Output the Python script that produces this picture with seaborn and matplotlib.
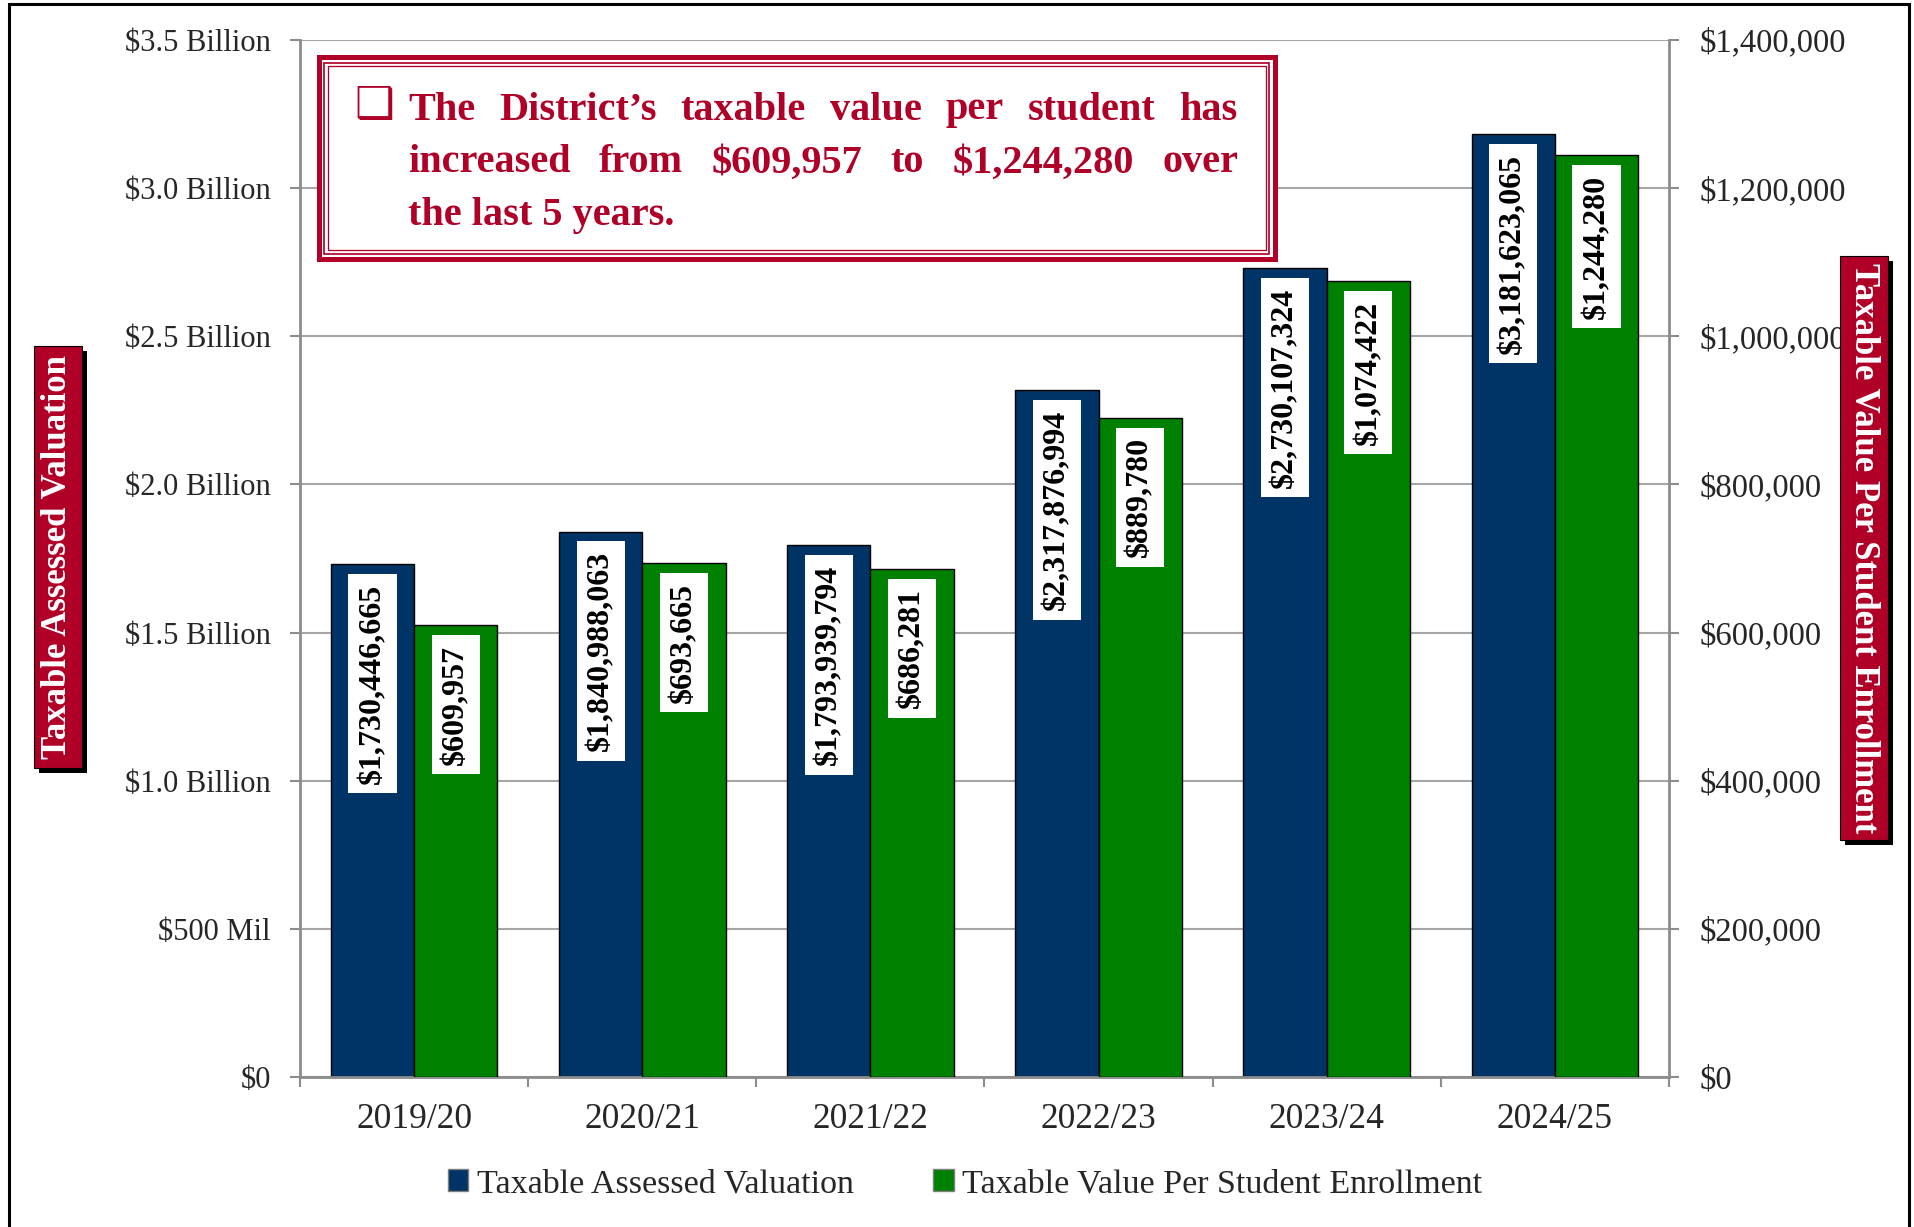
import matplotlib
matplotlib.use("Agg")
import matplotlib.pyplot as plt
from matplotlib.patches import Rectangle, Patch
import numpy as np
import pandas as pd
import seaborn as sns

# data
years = ["2019/20", "2020/21", "2021/22", "2022/23", "2023/24", "2024/25"]
assessed_valuation = [1730446665, 1840988063, 1793939794, 2317876994, 2730107324, 3181623065]
value_per_student = [609957, 693665, 686281, 889780, 1074422, 1244280]
series_names = ["Taxable Assessed Valuation", "Taxable Value Per Student Enrollment"]
series_colors = ["#003366", "#008000"]

left_ticks = [0, 0.5e9, 1.0e9, 1.5e9, 2.0e9, 2.5e9, 3.0e9, 3.5e9]
left_tick_labels = ["$0", "$500 Mil", "$1.0 Billion", "$1.5 Billion", "$2.0 Billion",
                    "$2.5 Billion", "$3.0 Billion", "$3.5 Billion"]
right_ticks = [0, 200000, 400000, 600000, 800000, 1000000, 1200000, 1400000]
right_tick_labels = ["$0", "$200,000", "$400,000", "$600,000", "$800,000",
                     "$1,000,000", "$1,200,000", "$1,400,000"]

note_lines = ["The District\u2019s taxable value per student has",
              "increased from $609,957 to $1,244,280 over",
              "the last 5 years."]

W, H = 1915, 1227
crimson = "#B00028"
gray = "#8C8C8C"

sns.set_theme(style="white")
plt.rcParams["font.family"] = ["Liberation Serif", "DejaVu Serif"]
plt.rcParams["text.parse_math"] = False


def fx(x):
    return x / W


def fy(y):
    return 1 - y / H


fig = plt.figure(figsize=(W / 100, H / 100), dpi=100)
fig.patch.set_facecolor("white")
ax = fig.add_axes([fx(300), fy(1077), (1669 - 300) / W, (1077 - 40) / H])
ax2 = ax.twinx()

df = pd.DataFrame({
    "Year": years * 2,
    "Series": [series_names[0]] * len(years) + [series_names[1]] * len(years),
    "Value": assessed_valuation + value_per_student,
})
pal = dict(zip(series_names, series_colors))

# each series on its own axis, hue_order keeps both dodge slots
for a, name in [(ax, series_names[0]), (ax2, series_names[1])]:
    sns.barplot(data=df[df["Series"] == name], x="Year", y="Value", hue="Series",
                hue_order=series_names, order=years, palette=pal, dodge=True,
                width=0.73, saturation=1, errorbar=None, legend=False,
                edgecolor="black", linewidth=1, ax=a)

ax.set_xlim(-0.5, len(years) - 0.5)
ax.set_ylim(0, 3.5e9)
ax2.set_ylim(0, 1.4e6)

# left axis
ax.set_yticks(left_ticks)
ax.set_yticklabels(left_tick_labels)
ax.yaxis.grid(True, color="#A6A6A6", linewidth=1.5)
ax.xaxis.grid(False)
ax.set_axisbelow(True)
ax.tick_params(axis="y", left=True, direction="out", length=7, width=1.5,
               color=gray, pad=14, labelsize=22)
ax.set_xticks(range(len(years)))
ax.set_xticklabels(years)
ax.set_xticks(np.arange(-0.5, len(years), 1), minor=True)
ax.tick_params(axis="x", which="major", bottom=False, length=0, pad=19, labelsize=25.5)
ax.tick_params(axis="x", which="minor", bottom=True, direction="out", length=7,
               width=1.5, color=gray)
for s in ["top", "right"]:
    ax.spines[s].set_visible(False)
for s in ["left", "bottom"]:
    ax.spines[s].set_color(gray)
    ax.spines[s].set_linewidth(2)
ax.set_xlabel("")
ax.set_ylabel("")

# right axis
ax2.set_yticks(right_ticks)
ax2.set_yticklabels(right_tick_labels)
ax2.grid(False)
ax2.tick_params(axis="y", right=True, direction="out", length=7, width=1.5,
                color=gray, pad=15, labelsize=23.5)
for s in ["top", "left", "bottom"]:
    ax2.spines[s].set_visible(False)
ax2.spines["right"].set_color(gray)
ax2.spines["right"].set_linewidth(2)
ax2.set_ylabel("")
ax2.set_xlabel("")

# value labels inside the bars
for a in [ax, ax2]:
    for cont in a.containers:
        for bar in cont:
            h = bar.get_height()
            if np.isnan(h) or h == 0:
                continue
            a.annotate(f"${int(round(h)):,}", xy=(bar.get_x() + bar.get_width() / 2, h),
                       xytext=(0, -14), textcoords="offset points", rotation=90,
                       ha="center", va="top", fontsize=23, fontweight="bold",
                       color="black",
                       bbox=dict(boxstyle="square,pad=0.3", fc="white", ec="none"))


# axis title boxes (white text on crimson with a black shadow)
def title_box(x0, y0, x1, y1, text, rot):
    fig.add_artist(Rectangle((fx(x0 + 5), fy(y1 + 5)), (x1 - x0) / W, (y1 - y0) / H,
                             transform=fig.transFigure, fc="black", ec="none"))
    fig.add_artist(Rectangle((fx(x0), fy(y1)), (x1 - x0) / W, (y1 - y0) / H,
                             transform=fig.transFigure, fc=crimson, ec="black", lw=0.8))
    fig.text(fx((x0 + x1) / 2), fy((y0 + y1) / 2), text, rotation=rot,
             ha="center", va="center", color="white", fontsize=25, fontweight="bold")


title_box(34, 346, 82, 768, "Taxable Assessed Valuation", 90)
title_box(1840, 256, 1888, 840, "Taxable Value Per Student Enrollment", 270)

# note box with a double crimson border
fig.add_artist(Rectangle((fx(317 + 2.4), fy(261 - 2.4)), (960 - 4.8) / W, (206 - 4.8) / H,
                         transform=fig.transFigure, fc="white", ec=crimson, lw=5 * 0.72))
fig.add_artist(Rectangle((fx(317 + 7.5), fy(261 - 7.5)), (960 - 15) / W, (206 - 15) / H,
                         transform=fig.transFigure, fc="none", ec=crimson, lw=1.7 * 0.72))
fig.add_artist(Rectangle((fx(317 + 10.8), fy(261 - 10.8)), (960 - 21.6) / W, (206 - 21.6) / H,
                         transform=fig.transFigure, fc="none", ec=crimson, lw=1.3 * 0.72))

fig.text(fx(374), fy(106), "\u2751", family=["DejaVu Sans"], fontsize=32,
         color=crimson, ha="center", va="center")

renderer = fig.canvas.get_renderer()
x_start, x_end = 408, 1238
line_y = [110, 163, 216]
note_kw = dict(fontsize=29, fontweight="bold", color=crimson, va="center", ha="left")
for i, line in enumerate(note_lines):
    if i == len(note_lines) - 1:
        fig.text(fx(x_start), fy(line_y[i]), line, **note_kw)
        continue
    words = line.split(" ")
    texts = [fig.text(0, 0, w, **note_kw) for w in words]
    widths = [t.get_window_extent(renderer).width for t in texts]
    gap = (x_end - x_start - sum(widths)) / (len(words) - 1)
    x = x_start
    for t, w in zip(texts, widths):
        t.set_position((fx(x), fy(line_y[i])))
        x += w + gap

# legend under the plot
handles = [Patch(facecolor=c, edgecolor="#7F7F7F", linewidth=1, label=n)
           for n, c in zip(series_names, series_colors)]
fig.legend(handles=handles, loc="center", bbox_to_anchor=(fx(965), fy(1184)), ncol=2,
           frameon=False, fontsize=24.5, handlelength=0.6, handleheight=0.6,
           handletextpad=0.25, columnspacing=2.35)

# outer frame (no bottom edge visible)
fig.add_artist(Rectangle((fx(9), -0.05), (1909 - 9) / W, fy(4) + 0.05,
                         transform=fig.transFigure, fc="none", ec="black", lw=2.2))

fig.savefig("out.png", dpi=100)
